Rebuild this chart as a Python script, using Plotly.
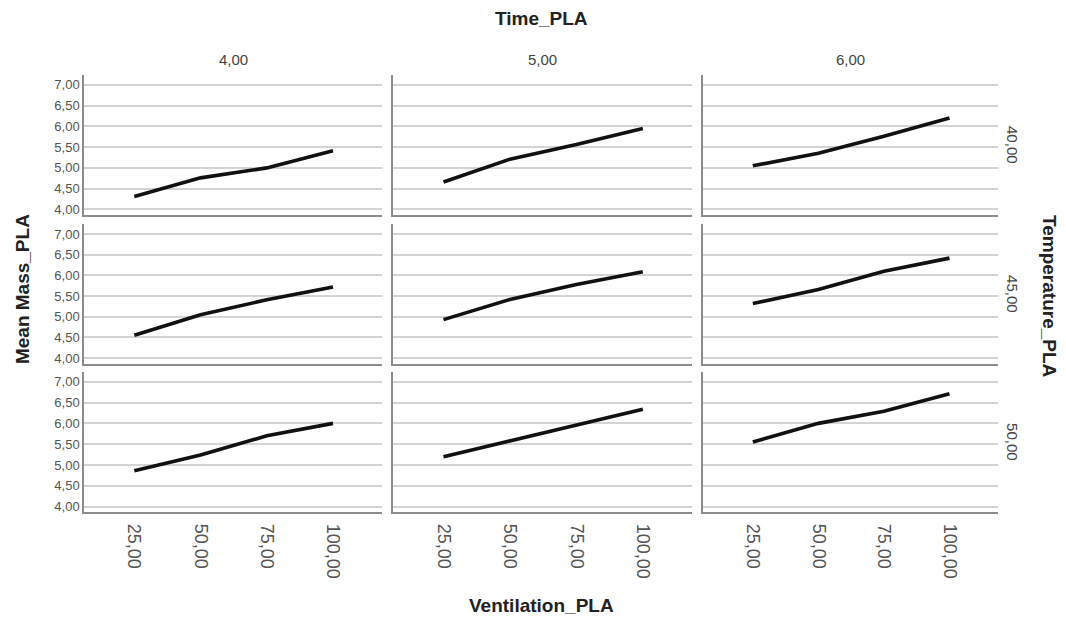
import plotly.graph_objects as go

ventilation = [25, 50, 75, 100]
vent_labels = ["25,00", "50,00", "75,00", "100,00"]
times = ["4,00", "5,00", "6,00"]
temps = ["40,00", "45,00", "50,00"]
y_ticks = [4.0, 4.5, 5.0, 5.5, 6.0, 6.5, 7.0]
y_tick_labels = ["4,00", "4,50", "5,00", "5,50", "6,00", "6,50", "7,00"]

# mean mass by (temperature row, time column)
mass_t40_time4 = [4.31, 4.76, 5.00, 5.41]
mass_t40_time5 = [4.66, 5.21, 5.56, 5.95]
mass_t40_time6 = [5.05, 5.35, 5.76, 6.20]
mass_t45_time4 = [4.55, 5.05, 5.41, 5.72]
mass_t45_time5 = [4.93, 5.42, 5.78, 6.09]
mass_t45_time6 = [5.32, 5.66, 6.10, 6.42]
mass_t50_time4 = [4.86, 5.24, 5.70, 6.00]
mass_t50_time5 = [5.20, 5.58, 5.98, 6.34]
mass_t50_time6 = [5.55, 6.00, 6.29, 6.71]

grid = [
    [mass_t40_time4, mass_t40_time5, mass_t40_time6],
    [mass_t45_time4, mass_t45_time5, mass_t45_time6],
    [mass_t50_time4, mass_t50_time5, mass_t50_time6],
]

W, H = 1066, 622
col_px = [(84, 382), (393, 692), (703, 998)]
row_px = [(75, 216), (225, 365), (373, 514)]
FONT = "Arial, Liberation Sans, sans-serif"

fig = go.Figure()
layout = dict(
    width=W, height=H, margin=dict(l=0, r=0, t=0, b=0),
    paper_bgcolor="white", plot_bgcolor="white", showlegend=False,
    font=dict(family=FONT, color="#555555"),
)
annotations = []
idx = 0
for r in range(3):
    for c in range(3):
        idx += 1
        xa = "xaxis" if idx == 1 else f"xaxis{idx}"
        ya = "yaxis" if idx == 1 else f"yaxis{idx}"
        xref = "x" if idx == 1 else f"x{idx}"
        yref = "y" if idx == 1 else f"y{idx}"
        x0, x1 = col_px[c]
        y0, y1 = row_px[r]
        layout[xa] = dict(
            domain=[x0 / W, x1 / W], anchor=yref, range=[6, 118.5],
            showgrid=False, zeroline=False, showline=True, linecolor="#8c8c8c",
            linewidth=1.5, tickvals=ventilation, ticktext=vent_labels,
            showticklabels=(r == 2), tickangle=90, ticks="", ticklabelstandoff=6,
            tickfont=dict(size=18, color="#555555", family=FONT),
        )
        layout[ya] = dict(
            domain=[1 - y1 / H, 1 - y0 / H], anchor=xref, range=[3.86, 7.24],
            showgrid=True, gridcolor="#d4d4d4", gridwidth=1.6, zeroline=False,
            showline=True, linecolor="#8c8c8c", linewidth=1.5,
            tickvals=y_ticks, ticktext=y_tick_labels, showticklabels=(c == 0),
            ticks="", tickfont=dict(size=13, color="#555555", family=FONT),
        )
        fig.add_trace(go.Scatter(
            x=ventilation, y=grid[r][c], mode="lines",
            line=dict(color="#111111", width=3.6), xaxis=xref, yaxis=yref,
        ))

for c in range(3):
    x0, x1 = col_px[c]
    annotations.append(dict(
        x=(x0 + x1) / 2 / W, y=1 - 60 / H, xref="paper", yref="paper",
        xanchor="center", yanchor="middle",
        text=times[c], showarrow=False, font=dict(size=15, color="#444444", family=FONT),
    ))
for r in range(3):
    y0, y1 = row_px[r]
    annotations.append(dict(
        x=1013 / W, y=1 - (y0 + y1) / 2 / H, xref="paper", yref="paper",
        xanchor="center", yanchor="middle",
        text=temps[r], showarrow=False, textangle=90,
        font=dict(size=15, color="#444444", family=FONT),
    ))

title_font = dict(size=19, color="#222222", family=FONT)
annotations += [
    dict(x=541 / W, y=1 - 19 / H, text="<b>Time_PLA</b>", font=title_font),
    dict(x=541 / W, y=1 - 607 / H, text="<b>Ventilation_PLA</b>", font=title_font),
    dict(x=22 / W, y=1 - 290 / H, text="<b>Mean Mass_PLA</b>", textangle=-90, font=title_font),
    dict(x=1050 / W, y=1 - 297 / H, text="<b>Temperature_PLA</b>", textangle=90, font=title_font),
]
for a in annotations[-4:]:
    a.update(xref="paper", yref="paper", xanchor="center", yanchor="middle", showarrow=False)
layout["annotations"] = annotations
fig.update_layout(**layout)
fig.write_html("out.html")
